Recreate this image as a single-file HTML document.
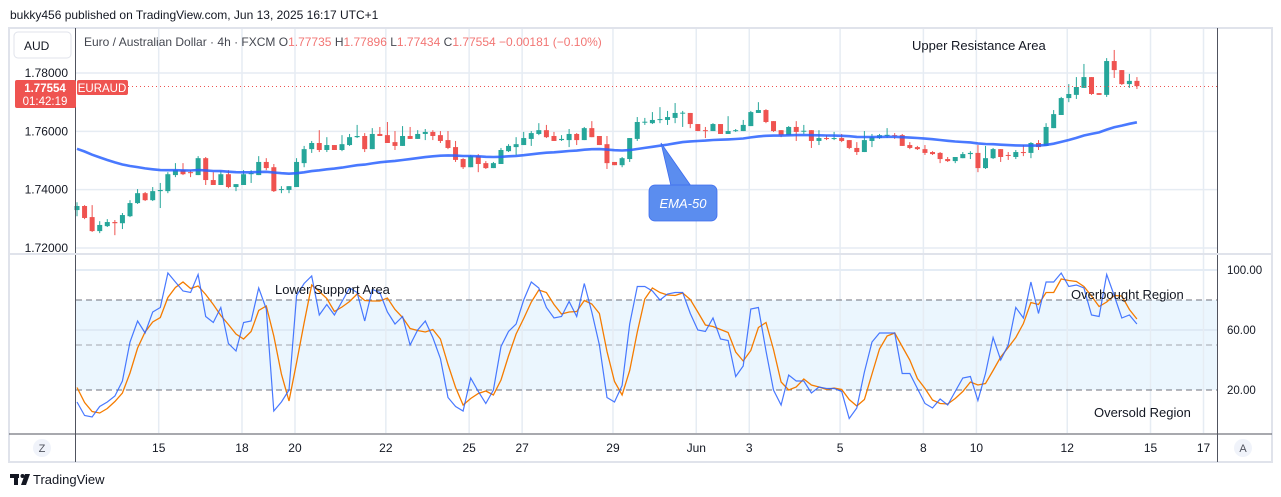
<!DOCTYPE html>
<html><head><meta charset="utf-8"><style>
html,body{margin:0;padding:0;background:#fff;width:1281px;height:497px;overflow:hidden;font-family:"Liberation Sans",sans-serif;}
svg text{font-family:"Liberation Sans",sans-serif;}
</style></head><body>
<svg id="chart" width="1281" height="497" viewBox="0 0 1281 497" xmlns="http://www.w3.org/2000/svg">
<text x="10" y="19" font-size="12" fill="#131722">bukky456 published on TradingView.com, Jun 13, 2025 16:17 UTC+1</text>
<rect x="9" y="28" width="1263" height="434" fill="#fff" stroke="#e0e3eb" stroke-width="2"/>
<rect x="76" y="300" width="1141" height="90" fill="#2196f3" fill-opacity="0.09"/>
<g id="grid"></g>
<g id="candles"></g>
<g id="stoch"></g>
<line x1="75.5" y1="28" x2="75.5" y2="462" stroke="#50535e" stroke-width="1"/>
<line x1="1217.5" y1="28" x2="1217.5" y2="462" stroke="#50535e" stroke-width="1"/>
<line x1="9" y1="254" x2="1272" y2="254" stroke="#e0e3eb" stroke-width="2"/>
<line x1="9" y1="434" x2="1272" y2="434" stroke="#50535e" stroke-width="1"/>
<g><rect x="14" y="32" width="57" height="26" rx="4" fill="#fff" stroke="#e0e3eb"/><text x="24" y="50" font-size="12" fill="#131722">AUD</text></g>
<text x="84" y="46" font-size="12" fill="#131722" fill-opacity="0.8">Euro / Australian Dollar · 4h · FXCM <tspan>O</tspan><tspan fill="#ef5350">1.77735</tspan> <tspan>H</tspan><tspan fill="#ef5350">1.77896</tspan> <tspan>L</tspan><tspan fill="#ef5350">1.77434</tspan> <tspan>C</tspan><tspan fill="#ef5350">1.77554</tspan> <tspan fill="#ef5350">−0.00181 (−0.10%)</tspan></text>
<g id="priceaxis"></g>
<g id="timeaxis"></g>
<line x1="128" y1="86.5" x2="1217" y2="86.5" stroke="#ef5350" stroke-dasharray="1,3"/>
<g><rect x="15" y="80" width="61" height="28" rx="2" fill="#ef5350"/><text x="45" y="92" font-size="11.5" font-weight="bold" fill="#fff" text-anchor="middle">1.77554</text><text x="45" y="105" font-size="11.5" fill="#fff" text-anchor="middle">01:42:19</text></g>
<g><rect x="77" y="80" width="51" height="15" rx="2" fill="#ef5350"/><text x="102" y="92" font-size="11.5" fill="#fff" text-anchor="middle">EURAUD</text></g>
<text x="912" y="50" font-size="13" fill="#131722">Upper Resistance Area</text>
<text x="275" y="294" font-size="13" fill="#131722">Lower Support Area</text>
<text x="1071" y="299" font-size="13" fill="#131722">Overbought Region</text>
<text x="1094" y="417" font-size="13" fill="#131722">Oversold Region</text>
<g><path d="M661,143 L691,186 L671,186 Z" fill="#5b8def" stroke="#3d6cf0" stroke-width="0.8"/><rect x="649" y="185" width="68" height="36" rx="6" fill="#5b8def" stroke="#3d6cf0" stroke-width="0.8"/><text x="683" y="208" font-size="13" font-style="italic" fill="#fff" text-anchor="middle">EMA-50</text></g>
<g><text x="1227" y="274" font-size="11.5" fill="#131722">100.00</text><text x="1227" y="334" font-size="11.5" fill="#131722">60.00</text><text x="1227" y="394" font-size="11.5" fill="#131722">20.00</text></g>
<g><circle cx="42" cy="448" r="9" fill="#f0f3fa"/><text x="42" y="452" font-size="11" fill="#50535e" text-anchor="middle">Z</text></g>
<g><circle cx="1243" cy="448" r="9" fill="#f0f3fa"/><text x="1243" y="452" font-size="11" fill="#50535e" text-anchor="middle">A</text></g>
<g><rect x="10" y="474" width="9" height="4" fill="#131722"/><rect x="14" y="474" width="4" height="11" fill="#131722"/><circle cx="22.5" cy="476" r="2" fill="#131722"/><path d="M25,474 L30,474 L26,485 L21,485 Z" fill="#131722"/><text x="33" y="484" font-size="13" fill="#131722">TradingView</text></g>
</svg>
<script>
const openP=[1.7330,1.7344,1.7306,1.7258,1.7275,1.7289,1.7285,1.7309,1.7354,1.7388,1.7364,1.7395,1.7395,1.7450,1.7467,1.7460,1.7450,1.7508,1.7433,1.7416,1.7453,1.7409,1.7416,1.7453,1.7450,1.7495,1.7477,1.7399,1.7399,1.7409,1.7491,1.7539,1.7560,1.7536,1.7553,1.7536,1.7553,1.7580,1.7584,1.7539,1.7591,1.7587,1.7563,1.7550,1.7584,1.7574,1.7591,1.7598,1.7587,1.7570,1.7546,1.7505,1.7477,1.7515,1.7491,1.7474,1.7488,1.7532,1.7546,1.7553,1.7574,1.7591,1.7604,1.7584,1.7570,1.7570,1.7591,1.7570,1.7611,1.7584,1.7556,1.7495,1.7484,1.7505,1.7574,1.7632,1.7628,1.7639,1.7639,1.7646,1.7663,1.7663,1.7625,1.7604,1.7601,1.7625,1.7591,1.7601,1.7601,1.7618,1.7663,1.7673,1.7635,1.7604,1.7587,1.7615,1.7601,1.7604,1.7567,1.7577,1.7574,1.7577,1.7570,1.7543,1.7529,1.7567,1.7577,1.7584,1.7587,1.7587,1.7553,1.7546,1.7539,1.7529,1.7526,1.7505,1.7498,1.7508,1.7522,1.7526,1.7474,1.7508,1.7539,1.7519,1.7512,1.7529,1.7526,1.7560,1.7550,1.7611,1.7656,1.7714,1.7725,1.7749,1.7786,1.7731,1.7725,1.7841,1.7810,1.7762,1.7773];
const highP=[1.7357,1.7347,1.7347,1.7292,1.7299,1.7296,1.7320,1.7364,1.7402,1.7392,1.7409,1.7423,1.7460,1.7491,1.7491,1.7467,1.7515,1.7512,1.7460,1.7464,1.7467,1.7419,1.7467,1.7467,1.7515,1.7508,1.7488,1.7412,1.7412,1.7508,1.7550,1.7567,1.7604,1.7580,1.7553,1.7587,1.7591,1.7622,1.7594,1.7611,1.7615,1.7632,1.7601,1.7618,1.7615,1.7604,1.7608,1.7604,1.7601,1.7601,1.7567,1.7508,1.7519,1.7522,1.7498,1.7495,1.7543,1.7556,1.7580,1.7598,1.7601,1.7628,1.7622,1.7598,1.7587,1.7608,1.7594,1.7615,1.7635,1.7584,1.7584,1.7495,1.7512,1.7577,1.7649,1.7646,1.7666,1.7683,1.7670,1.7697,1.7670,1.7663,1.7625,1.7615,1.7628,1.7625,1.7652,1.7608,1.7639,1.7670,1.7700,1.7676,1.7635,1.7604,1.7618,1.7635,1.7622,1.7604,1.7604,1.7587,1.7598,1.7591,1.7570,1.7563,1.7601,1.7591,1.7591,1.7611,1.7594,1.7591,1.7563,1.7550,1.7553,1.7532,1.7529,1.7512,1.7512,1.7529,1.7532,1.7553,1.7550,1.7543,1.7539,1.7529,1.7536,1.7553,1.7563,1.7570,1.7628,1.7673,1.7718,1.7762,1.7786,1.7831,1.7786,1.7731,1.7851,1.7879,1.7810,1.7797,1.7786];
const lowP=[1.7309,1.7299,1.7255,1.7251,1.7272,1.7244,1.7265,1.7306,1.7351,1.7361,1.7361,1.7337,1.7388,1.7443,1.7450,1.7443,1.7450,1.7416,1.7416,1.7416,1.7405,1.7395,1.7416,1.7423,1.7450,1.7467,1.7392,1.7388,1.7388,1.7409,1.7477,1.7526,1.7529,1.7529,1.7536,1.7532,1.7550,1.7577,1.7529,1.7539,1.7584,1.7560,1.7536,1.7550,1.7574,1.7574,1.7570,1.7570,1.7560,1.7539,1.7495,1.7471,1.7477,1.7460,1.7471,1.7474,1.7488,1.7529,1.7519,1.7553,1.7550,1.7587,1.7577,1.7567,1.7567,1.7546,1.7553,1.7570,1.7580,1.7553,1.7471,1.7484,1.7477,1.7495,1.7567,1.7622,1.7625,1.7628,1.7622,1.7628,1.7615,1.7611,1.7601,1.7577,1.7601,1.7591,1.7591,1.7598,1.7601,1.7618,1.7663,1.7628,1.7598,1.7580,1.7587,1.7567,1.7591,1.7543,1.7553,1.7570,1.7570,1.7563,1.7539,1.7519,1.7529,1.7546,1.7574,1.7577,1.7574,1.7550,1.7539,1.7536,1.7519,1.7519,1.7491,1.7495,1.7491,1.7508,1.7505,1.7460,1.7471,1.7505,1.7495,1.7502,1.7505,1.7515,1.7508,1.7536,1.7550,1.7611,1.7656,1.7700,1.7711,1.7749,1.7725,1.7725,1.7718,1.7783,1.7759,1.7749,1.7745];
const closeP=[1.7344,1.7303,1.7258,1.7279,1.7289,1.7285,1.7313,1.7354,1.7388,1.7364,1.7395,1.7399,1.7453,1.7467,1.7453,1.7457,1.7508,1.7433,1.7416,1.7453,1.7409,1.7419,1.7453,1.7457,1.7495,1.7474,1.7395,1.7402,1.7412,1.7495,1.7539,1.7560,1.7536,1.7553,1.7536,1.7556,1.7580,1.7584,1.7539,1.7591,1.7584,1.7560,1.7550,1.7584,1.7574,1.7591,1.7598,1.7584,1.7567,1.7543,1.7502,1.7477,1.7515,1.7488,1.7474,1.7491,1.7536,1.7550,1.7556,1.7577,1.7594,1.7604,1.7580,1.7567,1.7574,1.7591,1.7570,1.7611,1.7580,1.7553,1.7491,1.7484,1.7508,1.7577,1.7632,1.7633,1.7639,1.7642,1.7649,1.7663,1.7664,1.7625,1.7601,1.7601,1.7625,1.7591,1.7601,1.7604,1.7622,1.7666,1.7673,1.7632,1.7601,1.7587,1.7615,1.7598,1.7602,1.7567,1.7577,1.7574,1.7577,1.7567,1.7543,1.7529,1.7570,1.7580,1.7587,1.7588,1.7584,1.7550,1.7543,1.7539,1.7526,1.7522,1.7505,1.7498,1.7512,1.7522,1.7526,1.7474,1.7508,1.7539,1.7512,1.7518,1.7529,1.7528,1.7560,1.7546,1.7615,1.7659,1.7714,1.7728,1.7752,1.7786,1.7728,1.7725,1.7841,1.7810,1.7762,1.7773,1.7755];
const stochK=[12,3,2,9,12,16,26,52,66,58,72,75,98,92,86,85,97,69,65,75,51,46,65,66,88,74,6,12,20,83,91,96,70,77,70,79,88,85,66,87,85,72,64,69,50,60,66,55,41,15,9,6,28,19,11,20,49,59,64,80,92,88,75,68,69,79,69,91,72,50,15,12,23,64,89,89,86,80,84,85,85,71,60,59,68,54,53,29,36,74,75,46,20,10,30,26,26,18,22,21,21,19,1,8,32,52,58,58,58,31,31,21,11,8,14,10,19,28,29,13,31,55,40,50,75,68,92,71,92,92,98,89,90,88,70,69,97,83,68,70,64];
const stochKHistory=[33,20];
const emaSeed=1.7540;
const priceTicks=[1.78,1.76,1.74,1.72];
const priceTickLabels=["1.78000","1.76000","1.74000","1.72000"];
const stochLevels=[80,50,20];
const stochGrid=[100,60];
const dateLabels=["15","18","20","22","25","27","29","Jun","3","5","8","10","12","15","17"];
const dateCandleIdx=[11,22,29,41,52,59,71,82,89,101,112,119,131,142,149];

const NS="http://www.w3.org/2000/svg";
const X0=77, STEP=7.571;
function xOf(i){return X0+i*STEP;}
function yP(p){return 73+(1.78-p)*2916.7;}
function yS(v){return 270+(100-v)*1.5;}
function mk(tag,attrs,parent){const e=document.createElementNS(NS,tag);for(const k in attrs)e.setAttribute(k,attrs[k]);parent.appendChild(e);return e;}

const grid=document.getElementById('grid');
priceTicks.forEach((p,i)=>{
  const l=mk('line',{x1:76,x2:1217,y1:yP(p),y2:yP(p),stroke:'#e6ecf3','stroke-width':1.5},grid);
  
  
  const t=mk('text',{x:68,y:yP(p)+4,'font-size':12,fill:'#131722','text-anchor':'end'},document.getElementById('priceaxis'));
  t.textContent=priceTickLabels[i];
  
  
});
stochGrid.forEach(v=>{
  const l=mk('line',{x1:76,x2:1217,y1:yS(v),y2:yS(v),stroke:'#dbe6f2','stroke-width':1.5},grid);
  
  
});
dateLabels.forEach((d,i)=>{
  const x=xOf(dateCandleIdx[i]-1)+6;
  const l=mk('line',{x1:x,x2:x,y1:29,y2:433,stroke:'#e6ecf3','stroke-width':1.5},grid);
  
  
  const t=mk('text',{x:x,y:452,'font-size':12,fill:'#131722','text-anchor':'middle'},document.getElementById('timeaxis'));
  t.textContent=d;
  
  
});
stochLevels.forEach(v=>{
  const l=mk('line',{x1:76,x2:1217,y1:yS(v),y2:yS(v),stroke:v===50?'#a3a6af':'#6f727c','stroke-dasharray':'6,4','stroke-width':1},grid);
  
  
});

const cg=document.getElementById('candles');
for(let i=0;i<closeP.length;i++){
  const up=closeP[i]>=openP[i], col=up?'#26a69a':'#ef5350', x=xOf(i);
  const w=mk('line',{x1:x,x2:x,y1:yP(highP[i]),y2:yP(lowP[i]),stroke:col,'stroke-width':1},cg);
  
  
  const top=yP(Math.max(openP[i],closeP[i])), bot=yP(Math.min(openP[i],closeP[i]));
  const b=mk('rect',{x:x-2.5,y:top,width:5,height:Math.max(1,bot-top),fill:col},cg);
  
  
}
let ema=emaSeed, emaPts=[];
const a=2/51;
for(let i=0;i<closeP.length;i++){ if(i>0) ema=ema+a*(closeP[i]-ema); emaPts.push(xOf(i).toFixed(1)+','+yP(ema).toFixed(1)); }
const emaLine=mk('polyline',{points:emaPts.join(' '),fill:'none',stroke:'#2962ff','stroke-width':2.6,'stroke-opacity':0.85},cg);



const sg=document.getElementById('stoch');
const allK=stochKHistory.concat(stochK);
let kPts=[],dPts=[];
for(let i=0;i<stochK.length;i++){
  kPts.push(xOf(i).toFixed(1)+','+yS(stochK[i]).toFixed(1));
  const d=(allK[i]+allK[i+1]+allK[i+2])/3;
  dPts.push(xOf(i).toFixed(1)+','+yS(d).toFixed(1));
}
const dl=mk('polyline',{points:dPts.join(' '),fill:'none',stroke:'#f57c00','stroke-width':1.3},sg);


const kl=mk('polyline',{points:kPts.join(' '),fill:'none',stroke:'#2962ff','stroke-width':1.2,'stroke-opacity':0.85},sg);


</script>
</body></html>
